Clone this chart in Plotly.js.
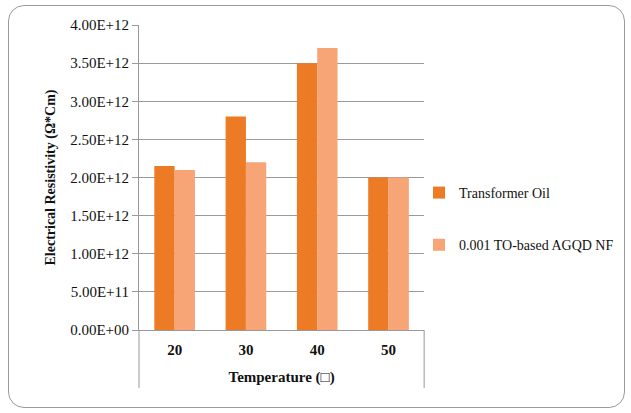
<!DOCTYPE html>
<html>
<head>
<meta charset="utf-8">
<script src="https://cdn.plot.ly/plotly-3.0.1.min.js"></script>
<style>
html,body{margin:0;padding:0;background:#fff;}
#wrap{position:relative;width:631px;height:413px;}
#chart{position:absolute;left:0;top:0;width:631px;height:413px;}
#frame{position:absolute;left:8px;top:5px;width:615px;height:401px;border:1.5px solid #9a9a9a;border-radius:16px;pointer-events:none;}
</style>
</head>
<body>
<div id="wrap"><div id="chart"></div><div id="frame"></div></div>
<script>
const categories = ['20', '30', '40', '50'];
const transformerOil = [2.15e12, 2.8e12, 3.5e12, 2.0e12];
const agqdNF = [2.1e12, 2.2e12, 3.7e12, 2.0e12];
const seriesNames = ['Transformer Oil', '0.001 TO-based AGQD NF'];
const yTickVals = [0, 0.5e12, 1e12, 1.5e12, 2e12, 2.5e12, 3e12, 3.5e12, 4e12];
const yTickText = ['0.00E+00', '5.00E+11', '1.00E+12', '1.50E+12', '2.00E+12', '2.50E+12', '3.00E+12', '3.50E+12', '4.00E+12'];

const font = '"Liberation Serif", "Times New Roman", Times, "DejaVu Serif", serif';
const data = [
  {type: 'bar', x: categories, y: transformerOil, name: seriesNames[0], legendgroup: 'a',
   marker: {color: '#ED7A25', line: {width: 0}}},
  {type: 'bar', x: categories, y: agqdNF, name: seriesNames[1], legendgroup: 'b',
   marker: {color: '#F7A477', line: {width: 0}}}
];
const layout = {
  width: 631, height: 413,
  margin: {l: 139, r: 20, t: 25, b: 83},
  paper_bgcolor: 'rgba(0,0,0,0)', plot_bgcolor: 'rgba(0,0,0,0)',
  font: {family: font, size: 15, color: '#111'},
  bargap: 0.43, bargroupgap: 0,
  showlegend: true,
  legend: {x: 0.597, xanchor: 'left', y: 0.364, yanchor: 'middle', tracegroupgap: 31,
           font: {family: font, size: 14, color: '#111'}, itemwidth: 30, bgcolor: 'rgba(0,0,0,0)'},
  xaxis: {
    type: 'category', domain: [0, 0.608], showgrid: false, showline: true, linecolor: '#999', linewidth: 1,
    ticks: '', tickfont: {family: font, size: 15, color: '#111', weight: 'bold'},
    ticklabelstandoff: 6,
    title: {text: 'Temperature (□)', font: {family: font, size: 15, color: '#111', weight: 'bold'}, standoff: 14},
    fixedrange: true
  },
  yaxis: {
    range: [0, 4e12], tickvals: yTickVals, ticktext: yTickText,
    showgrid: true, gridcolor: '#9a9a9a', gridwidth: 1,
    showline: true, linecolor: '#999', linewidth: 1,
    ticks: 'outside', ticklen: 6, tickcolor: '#9a9a9a',
    tickfont: {family: font, size: 15, color: '#111'},
    zeroline: false,
    title: {text: 'Electrical Resistivity (Ω*Cm)', font: {family: font, size: 14, color: '#111', weight: 'bold'}, standoff: 11},
    fixedrange: true
  },
  shapes: [
    {type: 'line', xref: 'x domain', yref: 'paper', x0: 0, x1: 0, y0: 0, y1: -0.19, line: {color: '#999', width: 1}},
    {type: 'line', xref: 'x domain', yref: 'paper', x0: 1, x1: 1, y0: 0, y1: -0.19, line: {color: '#999', width: 1}}
  ]
};
Plotly.newPlot('chart', data, layout, {displayModeBar: false, staticPlot: true});
</script>
</body>
</html>
